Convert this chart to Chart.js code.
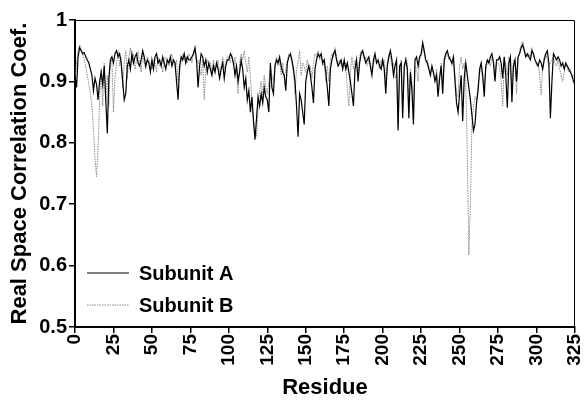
<!DOCTYPE html>
<html>
<head>
<meta charset="utf-8">
<script src="https://cdn.jsdelivr.net/npm/chart.js@4"></script>
<style>
  body { margin: 0; background: #fff; }
  #wrap { width: 586px; height: 404px; }
</style>
</head>
<body>
<div id="wrap"><canvas id="chart"></canvas></div>
<script>
// real space correlation per residue, 0..325
const subunitA = [
  .91,.89,.94,.955,.95,.945,.947,.94,.935,.93,.92,.91,.885,.905,.895,.87,.90,.915,.895,.925,.87,.815,.905,.935,.94,
  .93,.945,.95,.94,.945,.93,.90,.87,.88,.925,.935,.92,.945,.93,.94,.945,.93,.925,.935,.95,.94,.925,.935,.93,.915,
  .935,.92,.94,.945,.93,.935,.925,.94,.93,.92,.935,.93,.94,.925,.935,.93,.90,.87,.925,.94,.935,.945,.93,.94,.935,
  .935,.94,.945,.955,.935,.89,.925,.945,.94,.925,.935,.915,.93,.92,.91,.925,.915,.93,.92,.905,.92,.93,.905,.925,.935,
  .935,.945,.94,.93,.91,.925,.90,.915,.935,.92,.89,.905,.87,.885,.85,.875,.835,.805,.84,.875,.86,.88,.865,.89,.875,
  .87,.85,.93,.89,.88,.925,.935,.93,.94,.925,.915,.91,.885,.93,.94,.945,.935,.92,.90,.86,.81,.88,.87,.85,.83,
  .90,.915,.925,.91,.89,.865,.92,.935,.945,.94,.945,.93,.935,.915,.89,.86,.92,.935,.945,.95,.935,.925,.93,.935,.92,
  .935,.92,.93,.915,.90,.88,.86,.92,.935,.90,.93,.945,.95,.94,.93,.935,.94,.925,.91,.935,.945,.93,.935,.925,.92,
  .935,.92,.88,.925,.94,.95,.935,.91,.925,.935,.82,.925,.93,.84,.925,.935,.92,.84,.915,.885,.83,.935,.94,.925,.94,
  .945,.963,.95,.935,.93,.92,.91,.925,.915,.90,.91,.875,.905,.925,.88,.935,.945,.95,.94,.935,.93,.94,.90,.865,.85,
  .88,.91,.835,.905,.93,.91,.89,.87,.845,.82,.83,.865,.885,.92,.93,.91,.875,.925,.935,.93,.94,.945,.93,.90,.935,
  .935,.94,.93,.905,.94,.91,.857,.93,.94,.866,.925,.935,.90,.94,.945,.955,.96,.95,.94,.945,.94,.935,.95,.945,.935,
  .93,.925,.935,.93,.92,.935,.945,.95,.93,.84,.90,.945,.94,.935,.94,.935,.925,.93,.92,.93,.925,.92,.915,.91,.90,.895
];
const subunitB = [
  .90,.93,.95,.96,.955,.945,.935,.925,.91,.895,.88,.86,.82,.775,.745,.79,.87,.92,.86,.93,.87,.91,.86,.93,.935,
  .85,.905,.93,.95,.925,.94,.89,.93,.95,.905,.94,.955,.93,.945,.92,.935,.95,.93,.915,.945,.93,.92,.94,.935,.925,
  .92,.935,.93,.915,.94,.925,.93,.915,.935,.94,.93,.925,.935,.945,.93,.925,.935,.90,.915,.93,.945,.935,.94,.93,.945,
  .94,.93,.95,.945,.93,.935,.92,.91,.935,.87,.92,.935,.925,.93,.915,.935,.92,.925,.935,.91,.925,.94,.92,.93,.94,
  .94,.93,.945,.925,.94,.915,.88,.93,.945,.935,.95,.93,.915,.94,.905,.87,.84,.82,.81,.86,.885,.90,.875,.91,.89,
  .88,.90,.92,.91,.90,.93,.94,.925,.935,.91,.93,.905,.92,.935,.945,.94,.93,.915,.88,.92,.93,.95,.91,.93,.925,
  .915,.935,.92,.925,.905,.93,.945,.94,.95,.935,.94,.925,.93,.90,.925,.90,.935,.945,.94,.955,.94,.93,.935,.925,.93,
  .925,.93,.89,.86,.915,.94,.92,.935,.925,.91,.94,.95,.945,.935,.94,.925,.935,.93,.915,.925,.94,.935,.93,.92,.935,
  .925,.935,.90,.93,.945,.94,.925,.93,.905,.915,.83,.91,.935,.865,.915,.94,.93,.86,.92,.90,.855,.925,.92,.90,.935,
  .94,.955,.945,.93,.935,.925,.915,.92,.91,.905,.92,.89,.91,.93,.895,.93,.94,.945,.935,.94,.925,.935,.91,.88,.875,
  .925,.94,.92,.93,.90,.78,.617,.70,.83,.86,.875,.87,.895,.91,.925,.905,.89,.92,.93,.935,.925,.94,.935,.91,.93,
  .93,.925,.90,.86,.935,.93,.91,.94,.925,.89,.935,.93,.88,.935,.95,.96,.965,.955,.945,.94,.945,.94,.955,.94,.935,
  .925,.93,.91,.878,.925,.94,.945,.935,.925,.93,.935,.94,.93,.925,.935,.92,.91,.90,.915,.93,.92,.915,.92,.905,.91,.90
];
const seriesNames = ['Subunit A', 'Subunit B'];
const xTicks = [0, 25, 50, 75, 100, 125, 150, 175, 200, 225, 250, 275, 300, 325];
const yTicks = [0.5, 0.6, 0.7, 0.8, 0.9, 1];

const FONT = 'Liberation Sans, Arial, Helvetica, sans-serif';

function toPoints(arr) {
  return arr.map((v, i) => ({ x: i, y: v }));
}

// box around the plot + legend inside the bottom-left corner
const framePlugin = {
  id: 'frame',
  afterDatasetsDraw(chart) {
    const a = chart.chartArea;
    const ctx = chart.ctx;
    ctx.save();
    ctx.strokeStyle = '#000';
    ctx.lineWidth = 1;
    ctx.beginPath();
    ctx.moveTo(a.left, a.top + 0.5);
    ctx.lineTo(a.right - 0.5, a.top + 0.5);
    ctx.lineTo(a.right - 0.5, a.bottom);
    ctx.stroke();

    ctx.font = 'bold 20px ' + FONT;
    ctx.textBaseline = 'middle';
    ctx.fillStyle = '#000';
    chart.data.datasets.forEach((ds, i) => {
      const y = a.bottom - 54 + i * 32;
      ctx.beginPath();
      ctx.strokeStyle = ds.borderColor;
      ctx.lineWidth = ds.borderWidth;
      ctx.setLineDash(ds.borderDash || []);
      ctx.moveTo(a.left + 12, y);
      ctx.lineTo(a.left + 54, y);
      ctx.stroke();
      ctx.setLineDash([]);
      ctx.fillText(ds.label, a.left + 64, y + 1);
    });
    ctx.restore();
  }
};

new Chart(document.getElementById('chart'), {
  type: 'line',
  data: {
    datasets: [
      {
        label: seriesNames[0],
        data: toPoints(subunitA),
        borderColor: '#000',
        borderWidth: 1.2,
        order: 0
      },
      {
        label: seriesNames[1],
        data: toPoints(subunitB),
        borderColor: '#8a8a8a',
        borderWidth: 1,
        borderDash: [1.5, 1],
        order: 1
      }
    ]
  },
  options: {
    responsive: true,
    maintainAspectRatio: false,
    animation: false,
    layout: { padding: { top: 20, right: 11, left: 0, bottom: 0 } },
    elements: { point: { radius: 0 }, line: { tension: 0 } },
    plugins: { legend: { display: false }, tooltip: { enabled: false } },
    scales: {
      x: {
        type: 'linear',
        min: 0,
        max: 325,
        afterFit(scale) {
          scale.height = 77;
          scale.paddingLeft = 0;
          scale.paddingRight = 0;
        },
        afterBuildTicks(scale) { scale.ticks = xTicks.map(v => ({ value: v })); },
        ticks: {
          color: '#000',
          font: { family: FONT, size: 19, weight: 'bold' },
          minRotation: 90,
          maxRotation: 90,
          padding: 1
        },
        grid: { drawOnChartArea: false, color: '#000', lineWidth: 1.5, tickLength: 6 },
        border: { color: '#000', width: 2 },
        title: {
          display: true,
          text: 'Residue',
          color: '#000',
          font: { family: FONT, size: 22, weight: 'bold' },
          padding: { top: 4, bottom: 3 }
        }
      },
      y: {
        min: 0.5,
        max: 1,
        afterFit(scale) {
          scale.width = 75;
          scale.paddingTop = 0;
          scale.paddingBottom = 0;
        },
        afterBuildTicks(scale) { scale.ticks = yTicks.map(v => ({ value: v })); },
        ticks: {
          color: '#000',
          font: { family: FONT, size: 20, weight: 'bold' },
          padding: 2,
          callback: v => (v === 1 ? '1' : v.toFixed(1))
        },
        grid: { drawOnChartArea: false, color: '#000', lineWidth: 1.5, tickLength: 6 },
        border: { color: '#000', width: 2 },
        title: {
          display: true,
          text: 'Real Space Correlation Coef.',
          color: '#000',
          font: { family: FONT, size: 22, weight: 'bold' },
          padding: { top: 7, bottom: 4 }
        }
      }
    }
  },
  plugins: [framePlugin]
});
</script>
</body>
</html>
